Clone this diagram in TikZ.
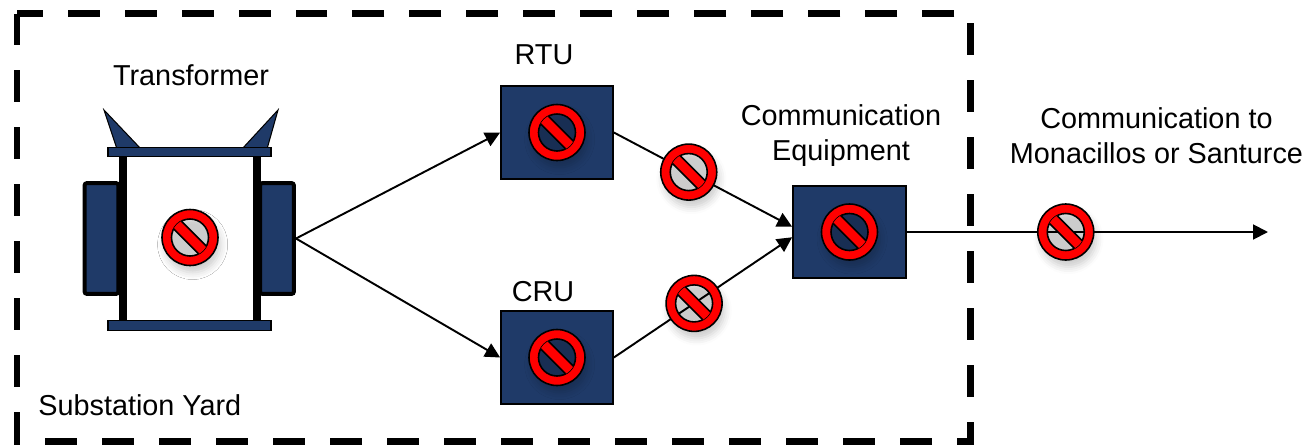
\documentclass[tikz,border=0pt]{standalone}
\usepackage{fontspec}
\setmainfont{Liberation Sans}
\usepackage{tikz}
\usetikzlibrary{arrows.meta, positioning, calc, shadows.blur}
\usepackage{xcolor}
\definecolor{navy}{HTML}{1F3A68}

\newcommand{\lblsize}{\fontsize{16.4pt}{19.9pt}\selectfont}

% red "blocked" sign drawn on top of a named node/coordinate
\newcommand{\nosign}[1]{%
  \path[blur shadow={shadow xshift=1.5pt, shadow yshift=-4pt,
        shadow blur radius=4pt, shadow opacity=20}] (#1) circle[radius=28];
  \fill[red, draw=black, line width=0.9pt, even odd rule]
    (#1) circle[radius=28] (#1) circle[radius=18.5];
  \begin{scope}
    \clip (#1) circle[radius=18.5];
    \filldraw[fill=red, draw=black, line width=0.9pt, rotate around={-45:(#1)}]
      ($(#1)+(-25,-5.5)$) rectangle ($(#1)+(25,5.5)$);
  \end{scope}
}

\tikzset{
  unitbox/.style={
    rectangle, draw=black, line width=1pt, fill=navy,
    minimum width=2.24cm, minimum height=1.86cm, inner sep=0pt
  },
  tankfin/.style={
    rectangle, rounded corners=1.5pt, draw=black, line width=0.08cm,
    fill=navy, minimum width=0.68cm, minimum height=2.22cm, inner sep=0pt
  },
  tank/.style={
    rectangle, fill=white, minimum width=2.68cm, minimum height=3.5cm,
    inner sep=0pt
  },
  plate/.style={
    rectangle, draw=black, line width=0.8pt, fill=navy,
    minimum width=3.26cm, minimum height=0.19cm, inner sep=0pt
  },
  lbl/.style={font=\lblsize, align=center, inner sep=0pt},
  link/.style={-{Triangle[length=8.5pt, width=8.5pt]}, line width=1.1pt},
  yard/.style={dash pattern=on 0.64cm off 0.5cm, line width=0.14cm}
}

\begin{document}
\begin{tikzpicture}[x=0.02cm, y=-0.02cm]
  \useasboundingbox (0,0) rectangle (1313,444);

  % substation boundary
  \draw[yard] (17,13.5) rectangle (970,441);
  \node[lbl, anchor=west] (yardlbl) at (38,405) {Substation Yard};

  % transformer
  \node[tankfin] (finL) at (101.5,238.5) {};
  \node[tankfin] (finR) at (277,238.5) {};
  \node[tank] (xfmr) at (190,237.5) {};
  \draw[line width=0.16cm] (xfmr.north west) -- (xfmr.south west);
  \draw[line width=0.16cm] (xfmr.north east) -- (xfmr.south east);
  \filldraw[fill=navy, draw=black, line width=0.6pt]
    (104,110) -- (141,149) -- (117,149) -- cycle;
  \filldraw[fill=navy, draw=black, line width=0.6pt]
    (278,110) -- (267,149) -- (242,149) -- cycle;
  \node[plate] (topplate) at (189.5,152) {};
  \node[plate] (botplate) at (189.5,325.5) {};
  \node[lbl] (xfmrlbl) at (191,75) {Transformer};

  % RTU / CRU / communication equipment
  \node[unitbox] (rtu) at (557,132.5) {};
  \node[unitbox] (cru) at (557,357.5) {};
  \node[unitbox, minimum width=2.26cm, minimum height=1.84cm] (comm) at (849.5,232) {};
  \node[lbl] (rtulbl) at (544,55) {RTU};
  \node[lbl] (crulbl) at (543,292) {CRU};
  \node[lbl] (commlbl) at (841,136) {Communication\\Equipment};
  \node[lbl] (outlbl) at (1156.5,136) {Communication to\\Monacillos or Santurce};
  \coordinate (out) at (1268,232);

  \draw[link] (finR.east) -- (rtu.west);
  \draw[link] (finR.east) -- (cru.west);
  \draw[link] (rtu.east) -- coordinate[pos=.42] (cutA) ([yshift=3pt]comm.west);
  \draw[link] (cru.east) -- coordinate[pos=.45] (cutB) ([yshift=-3pt]comm.west);
  \draw[link] (comm.east) -- coordinate[pos=.44] (cutC) (out);

  \nosign{xfmr}
  \nosign{rtu}
  \nosign{cru}
  \nosign{comm}
  \nosign{cutA}
  \nosign{cutB}
  \nosign{cutC}
\end{tikzpicture}
\end{document}
